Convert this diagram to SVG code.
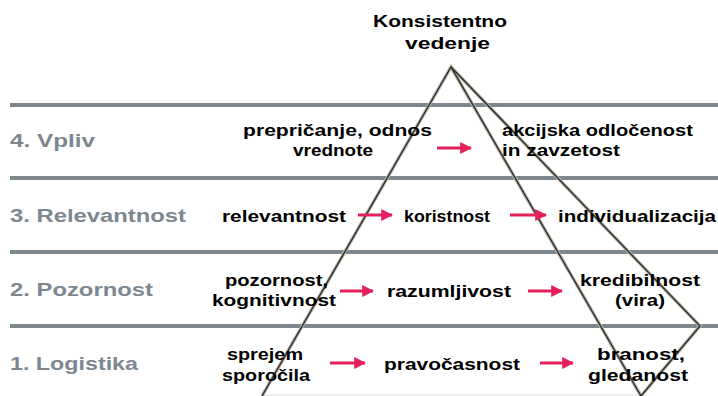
<svg xmlns="http://www.w3.org/2000/svg" width="718" height="396" viewBox="0 0 718 396">
<style>
.bg{fill:#ffffff}
.hl{stroke:#7c878e;stroke-width:4;fill:none}
.lbl{font-family:"Liberation Sans",Arial,sans-serif;font-weight:bold;font-size:18px;fill:#7d878f}
.t{font-family:"Liberation Sans",Arial,sans-serif;font-weight:bold;font-size:17px;fill:#000000}
.pyrU{stroke:#b9b7ad;stroke-width:3.5;fill:none;stroke-linejoin:miter}
.pyr{stroke:#2e2e2a;stroke-width:1.4;fill:none;stroke-linejoin:miter}
.arr{stroke:#e3205a;stroke-width:3;fill:none}
.ah{fill:#e3205a}
</style>
<defs>
<marker id="ah" viewBox="0 0 10 10" refX="9" refY="5" markerWidth="4" markerHeight="4" orient="auto" markerUnits="strokeWidth">
<path d="M0,0 L10,5 L0,10 Z" class="ah"/>
</marker>
</defs>
<rect class="bg" x="0" y="0" width="718" height="396"/>
<g id="rows">
<line class="hl" x1="10" y1="105" x2="718" y2="105"/>
<line class="hl" x1="10" y1="178" x2="718" y2="178"/>
<line class="hl" x1="10" y1="252" x2="718" y2="252"/>
<line class="hl" x1="10" y1="326" x2="718" y2="326"/>
<line x1="262" y1="395" x2="641" y2="395" stroke="#dcdcdc" stroke-width="1"/>
</g>
<g id="labels">
<text class="lbl" x="10" y="147" textLength="85" lengthAdjust="spacingAndGlyphs">4. Vpliv</text>
<text class="lbl" x="10" y="222" textLength="176" lengthAdjust="spacingAndGlyphs">3. Relevantnost</text>
<text class="lbl" x="10" y="296" textLength="143" lengthAdjust="spacingAndGlyphs">2. Pozornost</text>
<text class="lbl" x="10" y="370" textLength="128" lengthAdjust="spacingAndGlyphs">1. Logistika</text>
</g>
<g id="apex">
<text class="t" x="373" y="27" textLength="134" lengthAdjust="spacingAndGlyphs">Konsistentno</text>
<text class="t" x="405" y="49" textLength="85" lengthAdjust="spacingAndGlyphs">vedenje</text>
</g>
<g id="connectors">
<polyline class="pyrU" points="262,396 451,67 641,396"/>
<polyline class="pyrU" points="451,67 700,326 641,396"/>
<polyline class="pyr" points="262,396 451,67 641,396"/>
<polyline class="pyr" points="451,67 700,326 641,396"/>
<line class="arr" x1="437" y1="148" x2="471" y2="148" marker-end="url(#ah)"/>
<line class="arr" x1="358" y1="215" x2="392" y2="215" marker-end="url(#ah)"/>
<line class="arr" x1="510" y1="215" x2="546" y2="215" marker-end="url(#ah)"/>
<line class="arr" x1="340" y1="291" x2="373" y2="291" marker-end="url(#ah)"/>
<line class="arr" x1="528" y1="291" x2="562" y2="291" marker-end="url(#ah)"/>
<line class="arr" x1="330" y1="363" x2="365" y2="363" marker-end="url(#ah)"/>
<line class="arr" x1="540" y1="363" x2="573" y2="363" marker-end="url(#ah)"/>
</g>
<g id="n4a">
<text class="t" x="243" y="136" textLength="189" lengthAdjust="spacingAndGlyphs">prepričanje, odnos</text>
<text class="t" x="293" y="156" textLength="80" lengthAdjust="spacingAndGlyphs">vrednote</text>
</g>
<g id="n4b">
<text class="t" x="502" y="136" textLength="191" lengthAdjust="spacingAndGlyphs">akcijska odločenost</text>
<text class="t" x="502" y="156" textLength="118" lengthAdjust="spacingAndGlyphs">in zavzetost</text>
</g>
<g id="n3a"><text class="t" x="222" y="222" textLength="124" lengthAdjust="spacingAndGlyphs">relevantnost</text></g>
<g id="n3b"><text class="t" x="404" y="222" textLength="86" lengthAdjust="spacingAndGlyphs">koristnost</text></g>
<g id="n3c"><text class="t" x="558" y="222" textLength="158" lengthAdjust="spacingAndGlyphs">individualizacija</text></g>
<g id="n2a">
<text class="t" x="225" y="286" textLength="103" lengthAdjust="spacingAndGlyphs">pozornost,</text>
<text class="t" x="212" y="306" textLength="124" lengthAdjust="spacingAndGlyphs">kognitivnost</text>
</g>
<g id="n2b"><text class="t" x="387" y="297" textLength="124" lengthAdjust="spacingAndGlyphs">razumljivost</text></g>
<g id="n2c">
<text class="t" x="580" y="286" textLength="120" lengthAdjust="spacingAndGlyphs">kredibilnost</text>
<text class="t" x="615" y="306" textLength="50" lengthAdjust="spacingAndGlyphs">(vira)</text>
</g>
<g id="n1a">
<text class="t" x="227" y="360" textLength="76" lengthAdjust="spacingAndGlyphs">sprejem</text>
<text class="t" x="222" y="381" textLength="88" lengthAdjust="spacingAndGlyphs">sporočila</text>
</g>
<g id="n1b"><text class="t" x="384" y="370" textLength="136" lengthAdjust="spacingAndGlyphs">pravočasnost</text></g>
<g id="n1c">
<text class="t" x="597" y="360" textLength="88" lengthAdjust="spacingAndGlyphs">branost,</text>
<text class="t" x="588" y="381" textLength="100" lengthAdjust="spacingAndGlyphs">gledanost</text>
</g>
</svg>
